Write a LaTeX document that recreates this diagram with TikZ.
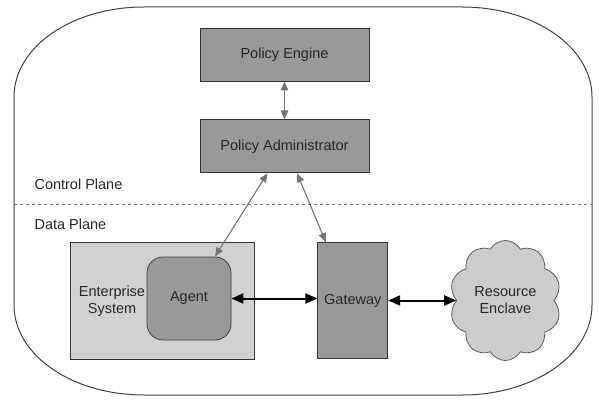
\documentclass[tikz,border=0pt]{standalone}
\usepackage{fontspec}
\setmainfont{Liberation Sans}
\usetikzlibrary{arrows.meta,positioning,shapes.symbols}

\begin{document}
\begin{tikzpicture}[x=1pt, y=-1pt,
  every node/.style={font=\fontsize{14.5}{17}\selectfont, text=black!85},
  policy/.style={draw=black!80, fill=black!40, line width=0.8pt, minimum width=169pt, minimum height=53pt},
  sysbox/.style={draw=black!80, fill=black!18, line width=0.8pt, minimum width=184pt, minimum height=117pt},
  agentbox/.style={draw=black!75, fill=black!40, line width=0.8pt, rounded corners=16pt, minimum width=84pt, minimum height=83pt},
  gatebox/.style={draw=black!80, fill=black!40, line width=0.8pt, minimum width=70pt, minimum height=116pt},
  enclave/.style={cloud, cloud puffs=10, cloud puff arc=120, aspect=0.9, draw=black!65, fill=black!20, line width=0.8pt, minimum width=100pt, minimum height=113pt, align=center},
  plane/.style={anchor=west},
  ctrl/.style={{Triangle[length=9pt,width=7.5pt]}-{Triangle[length=9pt,width=7.5pt]}, draw=black!55, line width=1.1pt},
  data/.style={{Triangle[length=12pt,width=10pt]}-{Triangle[length=12pt,width=10pt]}, draw=black, line width=2pt}
]
\useasboundingbox (0,0) rectangle (599,406);
% outer boundary
\draw[black!75, line width=1pt] (14,97) .. controls (14,47) and (72,7) .. (144,7) -- (462,7)
  .. controls (534,7) and (592,47) .. (592,97) -- (592,305)
  .. controls (592,355) and (534,395) .. (462,395) -- (144,395)
  .. controls (72,395) and (14,355) .. (14,305) -- cycle;
\coordinate (splitl) at (14,204);
\coordinate (splitr) at (592,204);
\draw[black!55, line width=0.8pt, dash pattern=on 3pt off 3pt] (splitl) -- (splitr);
\node[plane] (ctrlplane) at (31,184) {Control Plane};
\node[plane] (dataplane) at (31,224) {Data Plane};

\node[policy] (engine) at (284.5,54.5) {Policy Engine};
\node[policy, below=38pt of engine] (admin) {Policy Administrator};

\node[sysbox] (enterprise) at (162,300.5) {};
\node[align=center] (entlabel) at (112,301) {Enterprise\\System};
\node[agentbox] (agent) at (189,298.5) {Agent};
\node[gatebox, right=63pt of enterprise] (gateway) {Gateway};
\node[enclave, right=68pt of gateway] (resource) {Resource\\Enclave};

\draw[ctrl] (engine) -- (admin);
\draw[ctrl] ([xshift=-17pt]admin.south) -- ([xshift=26pt]agent.north);
\draw[ctrl] ([xshift=12.5pt]admin.south) -- ([xshift=-27pt]gateway.north);
\draw[data] (agent.east) -- (agent.east -| gateway.west);
\draw[data] (gateway.east) -- (gateway.east -| resource.west);
\end{tikzpicture}
\end{document}
